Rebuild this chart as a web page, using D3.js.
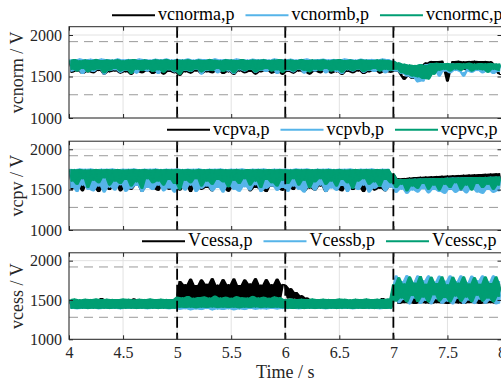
<!DOCTYPE html>
<html>
<head>
<meta charset="utf-8">
<script src="https://cdn.jsdelivr.net/npm/d3@7"></script>
<style>
body { margin: 0; background: #fff; }
</style>
</head>
<body>
<script>
// samples, one every 25 ms from t = 4 s
var tStart = 4, tStep = 0.025;

var vcnorma = [
1690,1545,1700,1560,1688,1530,1696,1550,1692,1540,1700,1565,1686,1525,1694,1550,1690,1560,1698,1535,1688,1550,1694,1520,1700,1555,1690,1540,1696,1560,1688,1530,1698,1550,1692,1525,1700,1555,1690,1540,
1694,1510,1692,1550,1698,1535,1688,1560,1696,1530,1690,1550,1700,1540,1692,1565,1686,1530,1698,1550,1694,1520,1690,1560,1700,1540,1688,1555,1696,1525,1692,1550,1698,1565,1690,1535,1694,1550,1700,1520,
1692,1555,1696,1535,1688,1560,1700,1545,1690,1525,1696,1555,1692,1540,1698,1565,1686,1535,1694,1550,1700,1520,1690,1555,1696,1540,1688,1560,1698,1530,1692,1550,1690,1565,1696,1535,1694,1555,1690,1545,
1680,1560,1650,1510,1460,1500,1620,1470,1630,1490,1640,1480,1670,1540,1688,1580,1686,1590,1690,1575,1440,1585,1686,1570,1690,1590,1684,1575,1688,1560,1690,1585,1686,1570,1688,1590,1684,1575,1650,1530,1520];
var vcnormb = [
1712,1560,1705,1575,1718,1530,1708,1570,1714,1555,1706,1580,1716,1525,1710,1565,1704,1575,1718,1545,1708,1570,1712,1555,1706,1535,1716,1575,1710,1560,1704,1580,1714,1530,1708,1565,1716,1575,1706,1550,
1712,1545,1708,1570,1716,1555,1704,1580,1714,1525,1710,1565,1706,1575,1718,1540,1708,1570,1712,1560,1704,1530,1716,1575,1710,1560,1706,1580,1714,1545,1708,1570,1712,1555,1704,1580,1716,1530,1710,1565,
1708,1570,1714,1550,1706,1580,1712,1535,1716,1570,1704,1560,1710,1580,1714,1540,1708,1570,1712,1555,1706,1530,1716,1575,1710,1560,1704,1580,1714,1545,1708,1570,1712,1555,1706,1575,1716,1540,1710,1565,
1690,1560,1665,1530,1650,1500,1640,1480,1600,1430,1590,1440,1650,1520,1660,1560,1655,1500,1662,1560,1650,1540,1658,1565,1654,1550,1500,1560,1660,1545,1652,1565,1658,1540,1650,1560,1656,1530,1652,1555,1650];
var vcnormc = [
1700,1580,1710,1560,1695,1590,1705,1550,1700,1575,1712,1585,1698,1540,1706,1570,1702,1590,1708,1560,1696,1575,1704,1530,1710,1580,1700,1565,1706,1585,1698,1555,1708,1575,1702,1545,1710,1580,1700,1560,
1705,1520,1702,1575,1708,1560,1698,1585,1706,1550,1700,1575,1712,1565,1702,1590,1696,1555,1708,1575,1704,1540,1700,1585,1710,1565,1698,1580,1706,1550,1702,1575,1708,1590,1700,1560,1704,1575,1710,1545,
1702,1580,1706,1560,1698,1585,1710,1570,1700,1550,1706,1580,1702,1565,1708,1590,1696,1560,1704,1575,1710,1545,1700,1580,1706,1565,1698,1585,1708,1555,1702,1575,1700,1590,1706,1560,1704,1580,1700,1570,
1690,1580,1670,1540,1655,1520,1645,1500,1640,1490,1650,1470,1640,1465,1660,1520,1665,1570,1660,1580,1664,1560,1658,1585,1662,1570,1660,1590,1665,1560,1658,1580,1662,1575,1660,1545,1664,1580,1658,1570,1660];

var vcpva = [
1748,1500,1745,1540,1750,1480,1746,1560,1749,1510,1744,1470,1750,1530,1747,1495,1745,1550,1749,1480,1746,1520,1750,1500,1744,1545,1748,1475,1746,1530,1750,1505,1745,1485,1748,1555,1746,1500,1750,1520,
1747,1490,1745,1535,1750,1470,1746,1545,1748,1500,1744,1520,1750,1480,1747,1550,1745,1505,1749,1475,1746,1530,1750,1495,1744,1550,1748,1480,1746,1520,1750,1500,1745,1470,1748,1540,1746,1505,1750,1485,
1748,1530,1745,1495,1750,1550,1746,1475,1749,1515,1744,1490,1750,1540,1747,1470,1745,1525,1749,1500,1746,1480,1750,1545,1744,1495,1748,1520,1746,1470,1750,1535,1745,1490,1748,1510,1746,1480,1750,1530,
1690,1480,1640,1520,1645,1490,1650,1530,1655,1485,1660,1520,1663,1500,1667,1540,1670,1480,1673,1525,1676,1500,1679,1540,1682,1490,1685,1530,1688,1500,1690,1545,1693,1490,1696,1530,1699,1505,1702,1520,1705];
var vcpvb = [
1760,1520,1757,1470,1762,1550,1758,1500,1761,1480,1756,1540,1760,1465,1759,1525,1762,1490,1757,1555,1760,1475,1758,1510,1761,1545,1756,1470,1760,1520,1759,1495,1762,1550,1757,1480,1760,1515,1758,1465,
1761,1530,1757,1490,1760,1550,1758,1470,1762,1510,1756,1540,1760,1480,1759,1520,1761,1465,1757,1545,1760,1500,1758,1475,1762,1530,1756,1490,1760,1555,1759,1470,1761,1510,1757,1540,1760,1485,1758,1520,
1760,1475,1757,1540,1762,1500,1758,1465,1761,1530,1756,1490,1760,1550,1759,1470,1762,1515,1757,1485,1760,1545,1758,1470,1761,1520,1756,1495,1760,1550,1759,1465,1762,1510,1757,1535,1760,1480,1758,1525,
1680,1460,1628,1500,1630,1450,1633,1490,1635,1465,1637,1505,1639,1455,1641,1495,1643,1470,1645,1450,1647,1500,1649,1460,1651,1490,1652,1455,1654,1505,1655,1465,1657,1450,1658,1495,1659,1460,1660,1480,1660];
var vcpvc = [
1755,1600,1752,1560,1756,1630,1750,1520,1754,1610,1757,1580,1751,1640,1755,1550,1753,1600,1756,1570,1750,1620,1754,1540,1757,1590,1752,1510,1755,1630,1750,1580,1756,1600,1753,1550,1755,1620,1751,1570,
1756,1500,1752,1610,1755,1580,1750,1630,1757,1540,1753,1600,1755,1560,1751,1620,1756,1590,1754,1530,1752,1610,1757,1570,1750,1630,1755,1550,1753,1600,1756,1520,1752,1620,1755,1580,1751,1540,1756,1610,
1754,1570,1750,1630,1756,1550,1752,1610,1755,1520,1753,1590,1757,1630,1751,1560,1755,1600,1752,1540,1756,1620,1750,1580,1754,1510,1757,1600,1752,1630,1755,1560,1751,1590,1756,1540,1753,1620,1755,1580,
1700,1520,1630,1560,1632,1480,1634,1540,1636,1510,1638,1570,1640,1500,1642,1550,1644,1490,1645,1560,1647,1520,1648,1580,1650,1500,1652,1550,1653,1490,1655,1570,1657,1520,1658,1560,1660,1500,1662,1550,1665];

var vcessa = [
1500,1395,1502,1398,1499,1394,1503,1397,1500,1396,1501,1398,1525,1395,1502,1397,1499,1394,1501,1398,1500,1396,1503,1395,1520,1397,1500,1394,1502,1398,1499,1396,1501,1395,1503,1397,1500,1398,1502,1394,
1510,1740,1515,1700,1520,1770,1512,1690,1518,1760,1515,1705,1520,1775,1512,1695,1518,1765,1515,1700,1520,1772,1512,1690,1518,1760,1515,1710,1520,1775,1512,1695,1518,1765,1515,1700,1520,1770,1512,1700,
1690,1520,1650,1515,1600,1510,1560,1420,1530,1396,1502,1398,1499,1394,1503,1397,1500,1396,1501,1398,1502,1395,1500,1397,1499,1394,1501,1398,1500,1396,1503,1395,1502,1397,1500,1394,1525,1398,1502,1396,
1600,1780,1450,1700,1460,1780,1455,1720,1450,1785,1460,1700,1455,1780,1450,1710,1460,1782,1455,1700,1450,1780,1460,1715,1455,1775,1450,1700,1460,1780,1458,1710,1450,1782,1455,1700,1460,1778,1450,1705,1600];
var vcessb = [
1498,1385,1503,1383,1496,1386,1501,1384,1499,1387,1504,1383,1497,1385,1502,1384,1500,1386,1498,1383,1503,1385,1501,1387,1496,1384,1502,1386,1499,1383,1504,1385,1497,1384,1503,1386,1500,1383,1498,1387,
1503,1375,1500,1383,1504,1370,1498,1380,1502,1372,1501,1384,1499,1368,1503,1378,1500,1374,1504,1382,1498,1370,1502,1380,1501,1372,1499,1384,1503,1376,1500,1382,1504,1378,1498,1385,1502,1380,1501,1384,
1500,1384,1503,1386,1497,1383,1502,1385,1499,1387,1504,1384,1498,1386,1501,1383,1500,1385,1503,1387,1497,1384,1502,1386,1499,1383,1504,1385,1498,1387,1501,1384,1500,1386,1503,1383,1497,1385,1502,1384,
1650,1810,1460,1740,1500,1815,1445,1730,1520,1810,1450,1750,1490,1812,1446,1735,1510,1808,1452,1745,1480,1810,1445,1740,1515,1812,1450,1730,1495,1808,1448,1750,1505,1810,1452,1735,1490,1812,1446,1740,1455];
var vcessc = [
1512,1388,1518,1385,1510,1390,1516,1384,1513,1388,1519,1386,1511,1389,1517,1385,1514,1390,1512,1384,1518,1387,1515,1389,1510,1385,1516,1390,1513,1386,1519,1388,1511,1384,1517,1389,1514,1386,1512,1390,
1540,1400,1535,1398,1550,1402,1528,1396,1538,1401,1545,1399,1530,1403,1555,1397,1532,1400,1540,1398,1528,1402,1548,1396,1535,1401,1530,1399,1552,1403,1533,1397,1540,1400,1528,1398,1545,1402,1536,1396,
1514,1388,1518,1385,1511,1390,1516,1384,1513,1388,1519,1386,1512,1389,1517,1385,1514,1390,1511,1384,1518,1387,1515,1389,1510,1385,1516,1390,1513,1386,1519,1388,1512,1384,1517,1389,1514,1386,1518,1390,
1700,1480,1790,1520,1710,1470,1800,1550,1720,1475,1805,1530,1705,1470,1795,1560,1715,1480,1800,1525,1700,1470,1795,1545,1720,1478,1800,1530,1710,1472,1790,1555,1705,1480,1798,1520,1715,1470,1800,1540,1700];

var xTicks = [4, 4.5, 5, 5.5, 6, 6.5, 7, 7.5, 8];
var yTicks = [1000, 1500, 2000];
var limitLines = [1920, 1280];   // grey dashed bands
var eventTimes = [5, 6, 7];      // black dashed markers
var colors = ["#000000", "#56B4E9", "#009E73"];

var panels = [
    {ylabel: "vcnorm / V", names: ["vcnorma,p", "vcnormb,p", "vcnormc,p"], series: [vcnorma, vcnormb, vcnormc], top: 26.7, bottom: 118, legendX: 112},
    {ylabel: "vcpv / V", names: ["vcpva,p", "vcpvb,p", "vcpvc,p"], series: [vcpva, vcpvb, vcpvc], top: 141.2, bottom: 230, legendX: 167},
    {ylabel: "vcess / V", names: ["Vcessa,p", "Vcessb,p", "Vcessc,p"], series: [vcessa, vcessb, vcessc], top: 252.8, bottom: 339.3, legendX: 142}
];

var font = "'Liberation Serif', 'Times New Roman', serif";
var left = 69, right = 501.5;

var svg = d3.select("body").append("svg")
    .attr("width", 501)
    .attr("height", 381)
    .style("font-family", font);

var x = d3.scaleLinear().domain([4, 8]).range([left, right]);

function styleAxis(sel) {
    sel.attr("font-family", font).attr("font-size", 16);
    sel.select(".domain").remove();
    sel.selectAll("text").attr("fill", "#262626");
    sel.selectAll(".tick line").attr("stroke", "#262626");
}

panels.forEach(function(p, k) {
    var y = d3.scaleLinear().domain([1000, 2100]).range([p.bottom, p.top]);
    var g = svg.append("g");

    // grid
    g.selectAll(".vgrid").data(xTicks).enter().append("line")
        .attr("x1", d => x(d)).attr("x2", d => x(d))
        .attr("y1", p.top).attr("y2", p.bottom)
        .attr("stroke", "#e2e2e2").attr("stroke-width", 1);
    g.selectAll(".hgrid").data(yTicks).enter().append("line")
        .attr("x1", left).attr("x2", right)
        .attr("y1", d => y(d)).attr("y2", d => y(d))
        .attr("stroke", "#e2e2e2").attr("stroke-width", 1);

    // limit lines
    g.selectAll(".lim").data(limitLines).enter().append("line")
        .attr("x1", left).attr("x2", right)
        .attr("y1", d => y(d)).attr("y2", d => y(d))
        .attr("stroke", "#9a9a9a").attr("stroke-width", 1)
        .attr("stroke-dasharray", "9,6");

    svg.append("clipPath").attr("id", "clip" + k)
        .append("rect").attr("x", left).attr("y", p.top)
        .attr("width", right - left).attr("height", p.bottom - p.top);

    var line = d3.line()
        .x(function(d, i) { return x(tStart + i * tStep); })
        .y(d => y(d));
    // the traces swing faster than a pixel, so the original reads as a filled band:
    // fill the vertical range each segment sweeps between two samples
    var band = d3.area()
        .defined(function(d, i, a) { return i < a.length - 1; })
        .x(function(d, i) { return x(tStart + (i + 0.5) * tStep); })
        .y0(function(d, i, a) { return y(Math.min(d, a[i + 1])); })
        .y1(function(d, i, a) { return y(Math.max(d, a[i + 1])); });

    var traces = g.append("g").attr("clip-path", "url(#clip" + k + ")");
    p.series.forEach(function(s, i) {
        traces.append("path").attr("d", band(s))
            .attr("fill", colors[i]).attr("stroke", "none");
        traces.append("path").attr("d", line(s))
            .attr("fill", "none")
            .attr("stroke", colors[i])
            .attr("stroke-width", 1);
    });

    // event markers on top of the traces
    g.selectAll(".ev").data(eventTimes).enter().append("line")
        .attr("x1", d => x(d)).attr("x2", d => x(d))
        .attr("y1", p.top).attr("y2", p.bottom)
        .attr("stroke", "#000").attr("stroke-width", 1.8)
        .attr("stroke-dasharray", "11,5");

    // axes, ticks pointing inwards
    g.append("g").attr("transform", "translate(" + left + ",0)")
        .call(d3.axisLeft(y).tickValues(yTicks).tickSizeInner(-4).tickSizeOuter(0).tickPadding(7).tickFormat(d3.format("d")))
        .call(styleAxis);
    g.append("g").attr("transform", "translate(" + right + ",0)")
        .call(d3.axisRight(y).tickValues(yTicks).tickSizeInner(-4).tickSizeOuter(0).tickFormat(""))
        .call(styleAxis);
    g.append("g").attr("transform", "translate(0," + p.top + ")")
        .call(d3.axisTop(x).tickValues(xTicks).tickSizeInner(-4).tickSizeOuter(0).tickFormat(""))
        .call(styleAxis);
    g.append("g").attr("transform", "translate(0," + p.bottom + ")")
        .call(d3.axisBottom(x).tickValues(xTicks).tickSizeInner(-4).tickSizeOuter(0).tickPadding(7)
            .tickFormat(k == 2 ? function(d) { return d; } : ""))
        .call(styleAxis);

    g.append("rect")
        .attr("x", left).attr("y", p.top)
        .attr("width", right - left).attr("height", p.bottom - p.top)
        .attr("fill", "none").attr("stroke", "#262626").attr("stroke-width", 1);

    // y label
    g.append("text")
        .attr("transform", "translate(23," + (p.top + p.bottom) / 2 + ") rotate(-90)")
        .attr("text-anchor", "middle")
        .attr("font-size", 18)
        .attr("fill", "#262626")
        .text(p.ylabel);

    // legend in one row above the panel
    var lx = p.legendX;
    p.names.forEach(function(name, i) {
        g.append("line")
            .attr("x1", lx).attr("x2", lx + 43)
            .attr("y1", p.top - 11.5).attr("y2", p.top - 11.5)
            .attr("stroke", colors[i]).attr("stroke-width", 2);
        var t = g.append("text")
            .attr("x", lx + 46).attr("y", p.top - 6.5)
            .attr("font-size", 18)
            .attr("fill", "#000")
            .text(name);
        lx = lx + 46 + t.node().getComputedTextLength() + 11;
    });
});

svg.append("text")
    .attr("x", (left + right) / 2)
    .attr("y", 378)
    .attr("text-anchor", "middle")
    .attr("font-size", 18)
    .attr("fill", "#262626")
    .text("Time / s");
</script>
</body>
</html>
